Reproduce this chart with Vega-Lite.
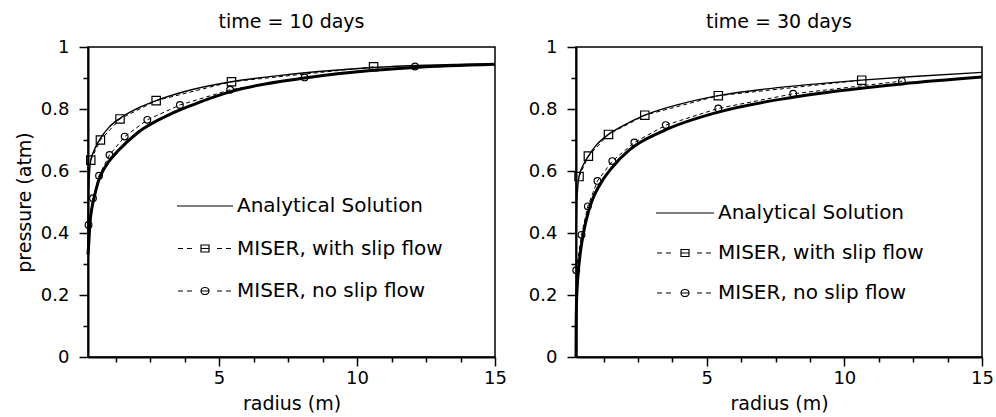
{
  "$schema": "https://vega.github.io/schema/vega-lite/v6.json",
  "padding": {"left": 14, "top": 12, "right": 2, "bottom": 0},
  "spacing": 19,
  "resolve": {"scale": {"shape": "independent"}, "legend": {"shape": "independent"}},
  "config": {
    "view": {"stroke": "black", "strokeWidth": 1.5},
    "font": "DejaVu Sans",
    "axis": {"grid": false, "domainColor": "black", "domainWidth": 2, "tickColor": "black", "tickWidth": 1.5, "labelColor": "black", "labelFont": "DejaVu Sans", "labelFontSize": 18, "titleFont": "DejaVu Sans", "titleFontSize": 19, "titleFontWeight": "normal", "titleColor": "black", "labelFlush": false, "labelOverlap": false},
    "title": {"font": "DejaVu Sans", "fontSize": 19, "fontWeight": "normal", "color": "black", "anchor": "middle", "offset": 6},
    "legend": {"labelFont": "DejaVu Sans", "labelFontSize": 20, "labelColor": "black", "labelLimit": 0}
  },
  "datasets": {
    "a10": [
      {"r": 0.25, "p": 0.36, "c": "slip"}, {"r": 0.27, "p": 0.5, "c": "slip"}, {"r": 0.3, "p": 0.585, "c": "slip"}, {"r": 0.35, "p": 0.635, "c": "slip"}, {"r": 0.45, "p": 0.662, "c": "slip"}, {"r": 0.55, "p": 0.682, "c": "slip"}, {"r": 0.7, "p": 0.705, "c": "slip"}, {"r": 1.0, "p": 0.74, "c": "slip"}, {"r": 1.41, "p": 0.77, "c": "slip"}, {"r": 2.0, "p": 0.8, "c": "slip"}, {"r": 2.72, "p": 0.827, "c": "slip"}, {"r": 4.0, "p": 0.862, "c": "slip"}, {"r": 5.45, "p": 0.888, "c": "slip"}, {"r": 7.0, "p": 0.906, "c": "slip"}, {"r": 8.5, "p": 0.92, "c": "slip"}, {"r": 10.6, "p": 0.934, "c": "slip"}, {"r": 12.5, "p": 0.941, "c": "slip"}, {"r": 15, "p": 0.946, "c": "slip"},
      {"r": 0.25, "p": 0.33, "c": "noslip"}, {"r": 0.28, "p": 0.37, "c": "noslip"}, {"r": 0.32, "p": 0.43, "c": "noslip"}, {"r": 0.4, "p": 0.485, "c": "noslip"}, {"r": 0.5, "p": 0.525, "c": "noslip"}, {"r": 0.62, "p": 0.565, "c": "noslip"}, {"r": 0.8, "p": 0.602, "c": "noslip"}, {"r": 1.0, "p": 0.63, "c": "noslip"}, {"r": 1.34, "p": 0.665, "c": "noslip"}, {"r": 2.07, "p": 0.725, "c": "noslip"}, {"r": 3.27, "p": 0.785, "c": "noslip"}, {"r": 4.0, "p": 0.812, "c": "noslip"}, {"r": 5.45, "p": 0.857, "c": "noslip"}, {"r": 8.1, "p": 0.9, "c": "noslip"}, {"r": 10.6, "p": 0.925, "c": "noslip"}, {"r": 12.1, "p": 0.934, "c": "noslip"}, {"r": 15, "p": 0.944, "c": "noslip"}
    ],
    "m10": [
      {"r": 0.35, "p": 0.635, "s": "MISER, with slip flow"}, {"r": 0.7, "p": 0.7, "s": "MISER, with slip flow"}, {"r": 1.41, "p": 0.768, "s": "MISER, with slip flow"}, {"r": 2.72, "p": 0.827, "s": "MISER, with slip flow"}, {"r": 5.45, "p": 0.888, "s": "MISER, with slip flow"}, {"r": 10.6, "p": 0.936, "s": "MISER, with slip flow"},
      {"r": 0.27, "p": 0.426, "s": "MISER, no slip flow"}, {"r": 0.43, "p": 0.512, "s": "MISER, no slip flow"}, {"r": 0.65, "p": 0.585, "s": "MISER, no slip flow"}, {"r": 1.03, "p": 0.652, "s": "MISER, no slip flow"}, {"r": 1.58, "p": 0.711, "s": "MISER, no slip flow"}, {"r": 2.4, "p": 0.765, "s": "MISER, no slip flow"}, {"r": 3.58, "p": 0.813, "s": "MISER, no slip flow"}, {"r": 5.4, "p": 0.862, "s": "MISER, no slip flow"}, {"r": 8.1, "p": 0.902, "s": "MISER, no slip flow"}, {"r": 12.1, "p": 0.937, "s": "MISER, no slip flow"}
    ],
    "a30": [
      {"r": 0.25, "p": 0.4, "c": "slip"}, {"r": 0.28, "p": 0.5, "c": "slip"}, {"r": 0.32, "p": 0.555, "c": "slip"}, {"r": 0.36, "p": 0.582, "c": "slip"}, {"r": 0.5, "p": 0.617, "c": "slip"}, {"r": 0.7, "p": 0.648, "c": "slip"}, {"r": 1.0, "p": 0.685, "c": "slip"}, {"r": 1.43, "p": 0.718, "c": "slip"}, {"r": 2.0, "p": 0.748, "c": "slip"}, {"r": 2.75, "p": 0.78, "c": "slip"}, {"r": 4.0, "p": 0.815, "c": "slip"}, {"r": 5.42, "p": 0.843, "c": "slip"}, {"r": 7.5, "p": 0.868, "c": "slip"}, {"r": 10.63, "p": 0.893, "c": "slip"}, {"r": 12.5, "p": 0.905, "c": "slip"}, {"r": 15, "p": 0.918, "c": "slip"},
      {"r": 0.25, "p": 0.0, "c": "noslip"}, {"r": 0.255, "p": 0.09, "c": "noslip"}, {"r": 0.265, "p": 0.16, "c": "noslip"}, {"r": 0.3, "p": 0.235, "c": "noslip"}, {"r": 0.33, "p": 0.272, "c": "noslip"}, {"r": 0.42, "p": 0.345, "c": "noslip"}, {"r": 0.5, "p": 0.39, "c": "noslip"}, {"r": 0.72, "p": 0.475, "c": "noslip"}, {"r": 0.84, "p": 0.506, "c": "noslip"}, {"r": 1.2, "p": 0.568, "c": "noslip"}, {"r": 1.57, "p": 0.612, "c": "noslip"}, {"r": 2.18, "p": 0.667, "c": "noslip"}, {"r": 3.39, "p": 0.728, "c": "noslip"}, {"r": 5.42, "p": 0.79, "c": "noslip"}, {"r": 8.14, "p": 0.838, "c": "noslip"}, {"r": 12.09, "p": 0.881, "c": "noslip"}, {"r": 15, "p": 0.903, "c": "noslip"}
    ],
    "m30": [
      {"r": 0.36, "p": 0.582, "s": "MISER, with slip flow"}, {"r": 0.7, "p": 0.648, "s": "MISER, with slip flow"}, {"r": 1.43, "p": 0.718, "s": "MISER, with slip flow"}, {"r": 2.75, "p": 0.78, "s": "MISER, with slip flow"}, {"r": 5.42, "p": 0.843, "s": "MISER, with slip flow"}, {"r": 10.63, "p": 0.893, "s": "MISER, with slip flow"},
      {"r": 0.26, "p": 0.28, "s": "MISER, no slip flow"}, {"r": 0.45, "p": 0.394, "s": "MISER, no slip flow"}, {"r": 0.68, "p": 0.486, "s": "MISER, no slip flow"}, {"r": 1.03, "p": 0.568, "s": "MISER, no slip flow"}, {"r": 1.57, "p": 0.632, "s": "MISER, no slip flow"}, {"r": 2.37, "p": 0.692, "s": "MISER, no slip flow"}, {"r": 3.51, "p": 0.748, "s": "MISER, no slip flow"}, {"r": 5.42, "p": 0.802, "s": "MISER, no slip flow"}, {"r": 8.14, "p": 0.849, "s": "MISER, no slip flow"}, {"r": 12.09, "p": 0.89, "s": "MISER, no slip flow"}
    ]
  },
  "hconcat": [
    {
      "width": 407, "height": 310,
      "title": {"text": "time = 10 days"},
      "resolve": {"scale": {"x": "independent", "y": "independent"}, "axis": {"x": "independent", "y": "independent"}},
      "layer": [
        {
          "data": {"name": "a10"},
          "transform": [{"filter": "datum.c == 'slip'"}],
          "mark": {"type": "line", "color": "black", "strokeWidth": 1.4, "interpolate": "monotone"},
          "encoding": {
            "x": {"field": "r", "type": "quantitative", "scale": {"domain": [0.25, 15], "nice": false, "zero": false}, "axis": {"orient": "bottom", "values": [5, 10, 15], "format": "~g", "tickSize": 9, "labelPadding": 3, "title": "radius (m)", "titlePadding": 7}},
            "y": {"field": "p", "type": "quantitative", "scale": {"domain": [0, 1], "nice": false}, "axis": {"orient": "left", "values": [0, 0.2, 0.4, 0.6, 0.8, 1], "format": "~g", "tickSize": 9, "labelPadding": 10, "title": "pressure (atm)", "titlePadding": 6}}
          }
        },
        {
          "data": {"name": "a10"},
          "transform": [{"filter": "datum.c == 'noslip'"}],
          "mark": {"type": "line", "color": "black", "strokeWidth": 3, "interpolate": "monotone"},
          "encoding": {
            "x": {"field": "r", "type": "quantitative", "scale": {"domain": [0.25, 15], "nice": false, "zero": false}, "axis": {"orient": "bottom", "values": [1.25, 2.5, 3.75, 6.25, 7.5, 8.75, 11.25, 12.5, 13.75], "labels": false, "tickSize": 5, "domain": false, "title": null}},
            "y": {"field": "p", "type": "quantitative", "scale": {"domain": [0, 1], "nice": false}, "axis": {"orient": "left", "values": [0.1, 0.3, 0.5, 0.7, 0.9], "labels": false, "tickSize": 5, "domain": false, "title": null}}
          }
        },
        {
          "data": {"name": "m10"},
          "mark": {"type": "line", "color": "black", "strokeWidth": 1, "strokeDash": [4, 3]},
          "encoding": {
            "x": {"field": "r", "type": "quantitative", "scale": {"domain": [0.25, 15], "nice": false, "zero": false}, "axis": null},
            "y": {"field": "p", "type": "quantitative", "scale": {"domain": [0, 1], "nice": false}, "axis": null},
            "detail": {"field": "s"}
          }
        },
        {
          "data": {"name": "m10"},
          "transform": [{"filter": "datum.s == 'MISER, with slip flow'"}],
          "mark": {"type": "point", "shape": "square", "size": 70, "filled": false, "color": "black", "strokeWidth": 1.2, "opacity": 1},
          "encoding": {
            "x": {"field": "r", "type": "quantitative", "scale": {"domain": [0.25, 15], "nice": false, "zero": false}, "axis": null},
            "y": {"field": "p", "type": "quantitative", "scale": {"domain": [0, 1], "nice": false}, "axis": null}
          }
        },
        {
          "data": {"name": "m10"},
          "transform": [{"filter": "datum.s == 'MISER, no slip flow'"}],
          "mark": {"type": "point", "shape": "circle", "size": 45, "filled": false, "color": "black", "strokeWidth": 1.2, "opacity": 1},
          "encoding": {
            "x": {"field": "r", "type": "quantitative", "scale": {"domain": [0.25, 15], "nice": false, "zero": false}, "axis": null},
            "y": {"field": "p", "type": "quantitative", "scale": {"domain": [0, 1], "nice": false}, "axis": null}
          }
        },
        {
          "data": {"name": "m10"},
          "transform": [{"filter": "false"}],
          "mark": {"type": "point", "filled": false, "color": "black", "strokeWidth": 1.2, "opacity": 1},
          "encoding": {
            "x": {"field": "r", "type": "quantitative", "scale": {"domain": [0.25, 15], "nice": false, "zero": false}, "axis": null},
            "y": {"field": "p", "type": "quantitative", "scale": {"domain": [0, 1], "nice": false}, "axis": null},
            "shape": {
              "field": "s", "type": "nominal",
              "scale": {"domain": ["Analytical Solution", "MISER, with slip flow", "MISER, no slip flow"], "range": ["M-10,0H46", "M-9,0H-4M0,0H5M14,-3.5H22V3.5H14ZM14,0H22M30,0H35M39,0H44", "M-9,0H-4M0,0H5M14,0A4,3.5 0 1 0 22,0A4,3.5 0 1 0 14,0ZM14,0H22M30,0H35M39,0H44"]},
              "legend": {"orient": "none", "legendX": 89, "legendY": 149, "title": null, "padding": 0, "rowPadding": 22.5, "symbolSize": 4, "symbolStrokeColor": "black", "symbolStrokeWidth": 1.2, "symbolFillColor": "transparent", "symbolOpacity": 1, "symbolOffset": 0, "labelOffset": 40}
            }
          }
        }
      ]
    },
    {
      "width": 406, "height": 310,
      "title": {"text": "time = 30 days"},
      "resolve": {"scale": {"x": "independent", "y": "independent"}, "axis": {"x": "independent", "y": "independent"}},
      "layer": [
        {
          "data": {"name": "a30"},
          "transform": [{"filter": "datum.c == 'slip'"}],
          "mark": {"type": "line", "color": "black", "strokeWidth": 1.4, "interpolate": "monotone"},
          "encoding": {
            "x": {"field": "r", "type": "quantitative", "scale": {"domain": [0.25, 15], "nice": false, "zero": false}, "axis": {"orient": "bottom", "values": [5, 10, 15], "format": "~g", "tickSize": 9, "labelPadding": 3, "title": "radius (m)", "titlePadding": 7}},
            "y": {"field": "p", "type": "quantitative", "scale": {"domain": [0, 1], "nice": false}, "axis": {"orient": "left", "values": [0, 0.2, 0.4, 0.6, 0.8, 1], "format": "~g", "tickSize": 9, "labelPadding": 10, "title": null}}
          }
        },
        {
          "data": {"name": "a30"},
          "transform": [{"filter": "datum.c == 'noslip'"}],
          "mark": {"type": "line", "color": "black", "strokeWidth": 3, "interpolate": "monotone"},
          "encoding": {
            "x": {"field": "r", "type": "quantitative", "scale": {"domain": [0.25, 15], "nice": false, "zero": false}, "axis": {"orient": "bottom", "values": [1.25, 2.5, 3.75, 6.25, 7.5, 8.75, 11.25, 12.5, 13.75], "labels": false, "tickSize": 5, "domain": false, "title": null}},
            "y": {"field": "p", "type": "quantitative", "scale": {"domain": [0, 1], "nice": false}, "axis": {"orient": "left", "values": [0.1, 0.3, 0.5, 0.7, 0.9], "labels": false, "tickSize": 5, "domain": false, "title": null}}
          }
        },
        {
          "data": {"name": "m30"},
          "mark": {"type": "line", "color": "black", "strokeWidth": 1, "strokeDash": [4, 3]},
          "encoding": {
            "x": {"field": "r", "type": "quantitative", "scale": {"domain": [0.25, 15], "nice": false, "zero": false}, "axis": null},
            "y": {"field": "p", "type": "quantitative", "scale": {"domain": [0, 1], "nice": false}, "axis": null},
            "detail": {"field": "s"}
          }
        },
        {
          "data": {"name": "m30"},
          "transform": [{"filter": "datum.s == 'MISER, with slip flow'"}],
          "mark": {"type": "point", "shape": "square", "size": 70, "filled": false, "color": "black", "strokeWidth": 1.2, "opacity": 1},
          "encoding": {
            "x": {"field": "r", "type": "quantitative", "scale": {"domain": [0.25, 15], "nice": false, "zero": false}, "axis": null},
            "y": {"field": "p", "type": "quantitative", "scale": {"domain": [0, 1], "nice": false}, "axis": null}
          }
        },
        {
          "data": {"name": "m30"},
          "transform": [{"filter": "datum.s == 'MISER, no slip flow'"}],
          "mark": {"type": "point", "shape": "circle", "size": 45, "filled": false, "color": "black", "strokeWidth": 1.2, "opacity": 1},
          "encoding": {
            "x": {"field": "r", "type": "quantitative", "scale": {"domain": [0.25, 15], "nice": false, "zero": false}, "axis": null},
            "y": {"field": "p", "type": "quantitative", "scale": {"domain": [0, 1], "nice": false}, "axis": null}
          }
        },
        {
          "data": {"name": "m30"},
          "transform": [{"filter": "false"}],
          "mark": {"type": "point", "filled": false, "color": "black", "strokeWidth": 1.2, "opacity": 1},
          "encoding": {
            "x": {"field": "r", "type": "quantitative", "scale": {"domain": [0.25, 15], "nice": false, "zero": false}, "axis": null},
            "y": {"field": "p", "type": "quantitative", "scale": {"domain": [0, 1], "nice": false}, "axis": null},
            "shape": {
              "field": "s", "type": "nominal",
              "scale": {"domain": ["Analytical Solution", "MISER, with slip flow", "MISER, no slip flow"], "range": ["M-10,0H48", "M-9,0H-4M0,0H5M15,-3.5H23V3.5H15ZM15,0H23M31,0H36M40,0H45", "M-9,0H-4M0,0H5M15,0A4,3.5 0 1 0 23,0A4,3.5 0 1 0 15,0ZM15,0H23M31,0H36M40,0H45"]},
              "legend": {"orient": "none", "legendX": 80, "legendY": 156, "title": null, "padding": 0, "rowPadding": 20, "symbolSize": 4, "symbolStrokeColor": "black", "symbolStrokeWidth": 1.2, "symbolFillColor": "transparent", "symbolOpacity": 1, "symbolOffset": 0, "labelOffset": 42}
            }
          }
        }
      ]
    }
  ]
}
